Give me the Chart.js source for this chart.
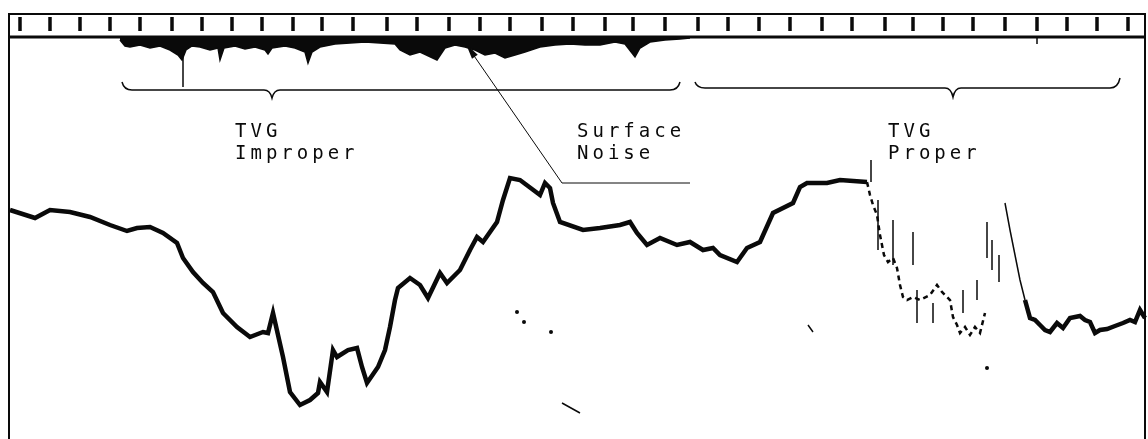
<!DOCTYPE html>
<html>
<head>
<meta charset="utf-8">
<script src="https://cdn.jsdelivr.net/npm/chart.js@4.4.1/dist/chart.umd.min.js"></script>
<style>
    html, body { margin: 0; padding: 0; background: #fff; }
    #wrap { width: 1148px; height: 439px; }
</style>
</head>
<body>
<div id="wrap"><canvas id="echo" width="1148" height="439"></canvas></div>
<script>
// Bottom echo trace (x along record, y = depth in record units)
const bottomX = [10, 35, 50, 70, 90, 110, 127, 137, 150, 163, 177, 183, 193, 203, 213, 223, 237, 250, 263, 268,
    273, 283, 290, 300, 310, 318, 320, 327, 333, 337, 348, 357, 362, 367, 378, 385, 390, 395, 398, 410,
    420, 428, 440, 447, 460, 470, 477, 483, 497, 503, 510, 520, 540, 545, 550, 553, 560, 583, 600, 620,
    630, 637, 647, 660, 677, 690, 703, 713, 720, 737, 747, 760, 773, 793, 800, 807, 827, 840, 867];
const bottomY = [210, 218, 210, 212, 217, 225, 231, 228, 227, 233, 243, 258, 272, 283, 292, 313, 327, 337, 332, 333,
    313, 357, 392, 405, 400, 393, 382, 392, 350, 357, 350, 348, 367, 383, 367, 350, 327, 300, 288, 278,
    285, 298, 273, 283, 270, 250, 237, 242, 222, 200, 178, 180, 195, 183, 188, 203, 222, 230, 228, 225,
    222, 233, 245, 238, 245, 242, 250, 248, 255, 262, 248, 242, 213, 203, 187, 183, 183, 180, 182];

// Broken-up return after the shelf
const fragX = [867, 870, 873, 877, 880, 884, 888, 893, 897, 900, 903, 907, 913, 920, 930, 937, 942, 947, 950, 953,
    957, 960, 965, 970, 975, 980, 985];
const fragY = [182, 195, 205, 215, 235, 255, 262, 258, 268, 285, 297, 300, 297, 300, 295, 285, 292, 297, 300, 317,
    325, 333, 327, 335, 327, 333, 313];

// Right hand trace (steep wall then bottom)
const rightX = [1005, 1010, 1015, 1020, 1025, 1030, 1035, 1040, 1045, 1050, 1057, 1063, 1070, 1080, 1085, 1090,
    1095, 1100, 1107, 1115, 1123, 1130, 1135, 1140, 1145];
const rightY = [203, 230, 255, 280, 300, 318, 320, 325, 330, 332, 323, 328, 318, 316, 320, 322,
    333, 330, 329, 326, 323, 320, 322, 310, 318];

// Vertical streaks (null = break)
const streakX = [183, 183, null, 871, 871, null, 878, 878, null, 893, 893, null, 913, 913, null, 917, 917, null,
    933, 933, null, 963, 963, null, 977, 977, null, 987, 987, null, 992, 992, null, 999, 999, null,
    562, 580, null, 808, 813, null, 1037, 1037];
const streakY = [45, 87, null, 160, 182, null, 200, 250, null, 220, 265, null, 232, 265, null, 290, 323, null,
    303, 323, null, 290, 313, null, 280, 300, null, 222, 258, null, 240, 270, null, 255, 282, null,
    403, 413, null, 325, 332, null, 37, 44];

// Stray specks
const dotX = [517, 524, 551, 987];
const dotY = [312, 322, 332, 368];

// Surface noise band hanging under the top strip
const noiseX = [120, 125, 130, 140, 150, 160, 170, 178, 182, 186, 192, 200, 210, 218, 220, 224, 235, 245, 255, 265,
    268, 272, 285, 295, 305, 308, 312, 320, 335, 350, 365, 380, 395, 400, 410, 420, 437, 445, 455, 465,
    475, 485, 495, 505, 515, 525, 540, 555, 570, 585, 600, 615, 625, 635, 640, 650, 665, 680, 690];
const noiseY = [40, 46, 47, 45, 48, 46, 50, 55, 60, 50, 46, 47, 50, 48, 60, 48, 46, 49, 47, 50,
    54, 48, 46, 48, 52, 63, 52, 47, 44, 43, 42, 43, 44, 50, 55, 52, 60, 48, 45, 47,
    50, 55, 53, 58, 55, 52, 47, 45, 44, 45, 45, 42, 44, 57, 48, 42, 40, 39, 38];

// Timing marks along the top strip
const tickMarks = [20, 50, 80, 110, 140, 172, 202, 232, 262, 293, 322, 353, 387, 417, 449, 480, 510, 542, 573,
    605, 633, 665, 698, 728, 759, 790, 822, 852, 885, 913, 943, 973, 1005, 1037, 1067, 1097, 1128];

const labels = [
    { lines: ['TVG', 'Improper'], x: 235 },
    { lines: ['Surface', 'Noise'], x: 577 },
    { lines: ['TVG', 'Proper'], x: 888 }
];

function pts(xs, ys) {
    return xs.map((x, i) => ({ x: x, y: ys[i] }));
}

const INK = '#0a0a0a';

const decor = {
    id: 'decor',
    beforeDatasetsDraw(chart) {
        const { ctx, scales: { x, y } } = chart;
        const X = v => x.getPixelForValue(v);
        const Y = v => y.getPixelForValue(v);
        ctx.save();
        ctx.strokeStyle = INK;
        ctx.fillStyle = INK;

        // frame
        ctx.lineWidth = 2;
        ctx.beginPath();
        ctx.moveTo(X(9), Y(445)); ctx.lineTo(X(9), Y(14)); ctx.lineTo(X(1145), Y(14)); ctx.lineTo(X(1145), Y(445));
        ctx.stroke();
        ctx.lineWidth = 3;
        ctx.beginPath();
        ctx.moveTo(X(9), Y(37)); ctx.lineTo(X(1145), Y(37));
        ctx.stroke();

        // braces
        ctx.lineWidth = 1.5;
        const brace = (x1, x2, xm, yh, ytip, yend1, yend2) => {
            ctx.beginPath();
            ctx.moveTo(X(x1), Y(yend1));
            ctx.quadraticCurveTo(X(x1 + 2), Y(yh), X(x1 + 10), Y(yh));
            ctx.lineTo(X(xm - 8), Y(yh));
            ctx.quadraticCurveTo(X(xm - 2), Y(yh), X(xm), Y(ytip));
            ctx.quadraticCurveTo(X(xm + 2), Y(yh), X(xm + 8), Y(yh));
            ctx.lineTo(X(x2 - 10), Y(yh));
            ctx.quadraticCurveTo(X(x2 - 2), Y(yh), X(x2), Y(yend2));
            ctx.stroke();
        };
        brace(122, 680, 272, 90, 98, 82, 82);
        brace(695, 1120, 953, 88, 97, 82, 78);

        // pointer for surface noise
        ctx.lineWidth = 1;
        ctx.beginPath();
        ctx.moveTo(X(690), Y(183)); ctx.lineTo(X(562), Y(183)); ctx.lineTo(X(470), Y(50));
        ctx.stroke();
        const ang = Math.atan2(Y(50) - Y(183), X(470) - X(562));
        const tx = X(466), ty = Y(44);
        ctx.beginPath();
        ctx.moveTo(tx, ty);
        ctx.lineTo(tx - 16 * Math.cos(ang - 0.22), ty - 16 * Math.sin(ang - 0.22));
        ctx.lineTo(tx - 16 * Math.cos(ang + 0.22), ty - 16 * Math.sin(ang + 0.22));
        ctx.closePath();
        ctx.fill();

        // labels
        ctx.font = '19px "DejaVu Sans Mono", monospace';
        ctx.letterSpacing = '4px';
        ctx.textBaseline = 'alphabetic';
        labels.forEach(l => {
            l.lines.forEach((t, i) => ctx.fillText(t, X(l.x), Y(137 + i * 22)));
        });
        ctx.restore();
    }
};

new Chart(document.getElementById('echo').getContext('2d'), {
    type: 'scatter',
    data: {
        datasets: [
            {
                data: pts(noiseX, noiseY), showLine: true, borderColor: INK, borderWidth: 1.5,
                backgroundColor: INK, fill: { value: 37 }, pointRadius: 0
            },
            {
                data: pts(bottomX, bottomY), showLine: true, borderColor: INK, borderWidth: 4.5,
                pointRadius: 0, fill: false
            },
            {
                data: pts(fragX, fragY), showLine: true, borderColor: INK, borderWidth: 2.5,
                borderDash: [5, 4], pointRadius: 0, fill: false
            },
            {
                data: pts(rightX, rightY), showLine: true, borderColor: INK, pointRadius: 0, fill: false,
                borderWidth: 4,
                segment: { borderWidth: c => (c.p0.parsed.x < 1025 ? 1.5 : 4.5) }
            },
            {
                data: pts(streakX, streakY), showLine: true, spanGaps: false, borderColor: INK,
                borderWidth: 1.5, pointRadius: 0, fill: false
            },
            {
                data: pts(dotX, dotY), pointRadius: 2, pointBackgroundColor: INK, pointBorderWidth: 0
            },
            {
                data: tickMarks.map(v => ({ x: v, y: 24 })), pointStyle: 'line', rotation: 90,
                pointRadius: 7, borderColor: INK, pointBorderWidth: 3.5
            }
        ]
    },
    options: {
        responsive: false,
        animation: false,
        devicePixelRatio: 1,
        layout: { padding: 0, autoPadding: false },
        plugins: { legend: { display: false }, tooltip: { enabled: false } },
        scales: {
            x: { type: 'linear', min: 0, max: 1148, display: false },
            y: { type: 'linear', min: 0, max: 439, reverse: true, display: false }
        }
    },
    plugins: [decor]
});
</script>
</body>
</html>
